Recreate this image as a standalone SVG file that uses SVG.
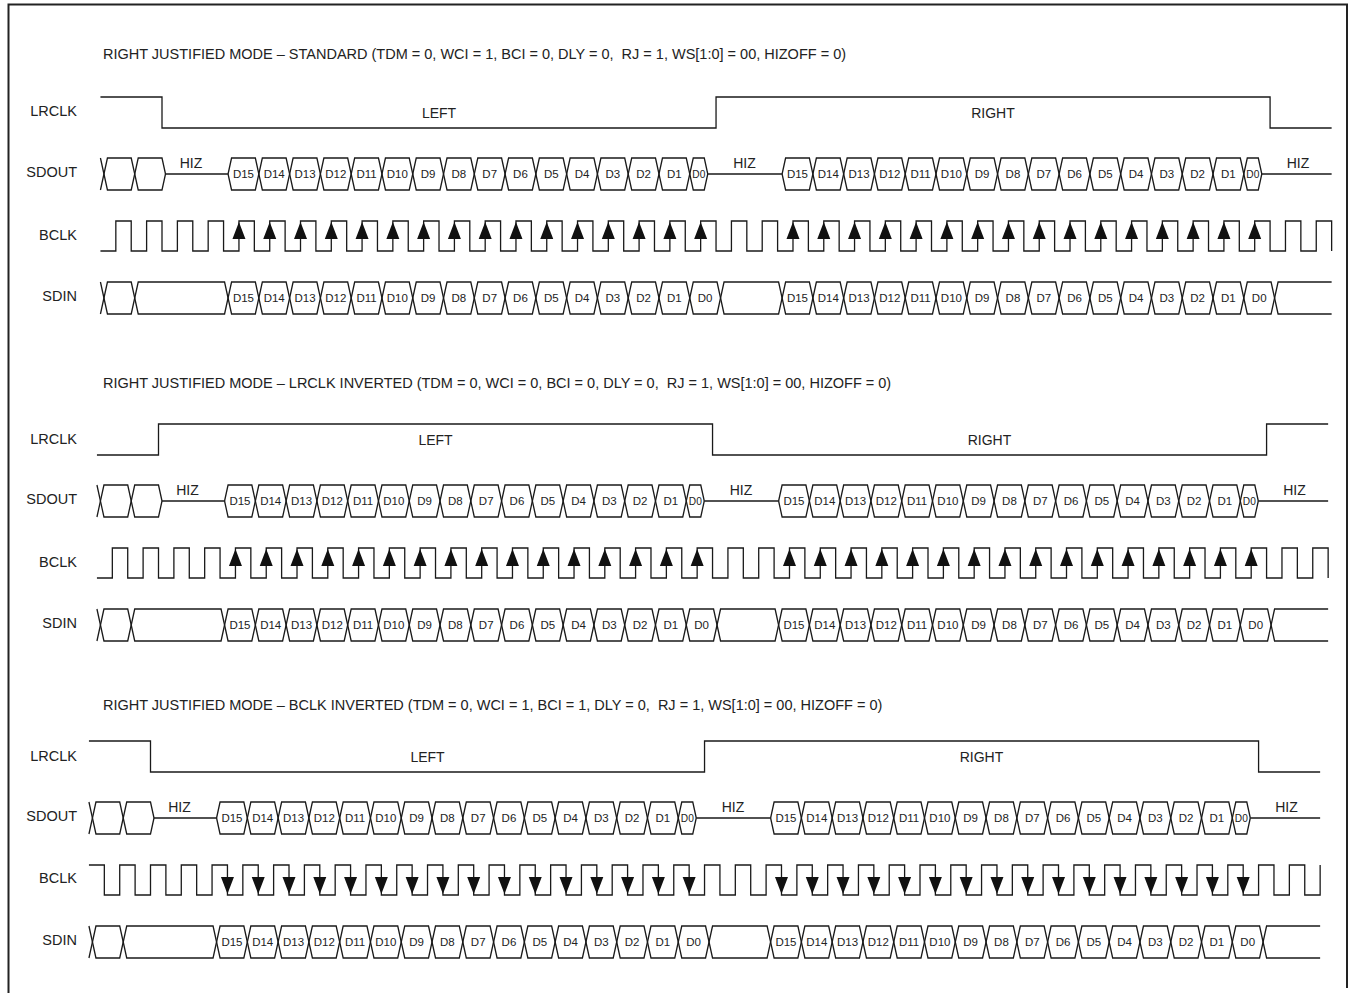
<svg xmlns="http://www.w3.org/2000/svg" xmlns:xlink="http://www.w3.org/1999/xlink" width="1354" height="993" viewBox="0 0 1354 993">
<style>
.t{font-family:"Liberation Sans",Arial,sans-serif;fill:#222}
.ttl{font-size:14.5px}
.lbl{font-size:14.5px;text-anchor:end}
.mid{font-size:14px;text-anchor:middle}
.d{font-size:11.5px;text-anchor:middle}
.w{fill:none;stroke:#1a1a1a;stroke-width:1.3;stroke-linejoin:miter}
.ar{fill:#111;stroke:none}
</style>
<defs>
<path id="lr" class="w" d="M-61.56,0H0V31H554.04V0H1108.08V31H1169.64"/>
<path id="lri" class="w" d="M-61.56,31H0V0H554.04V31H1108.08V0H1169.64"/>
<path id="bclk" class="w" d="M-61.56,154
h15.39V124h15.39V154h15.39V124h15.39V154h15.39V124h15.39V154h15.39V124h15.39V154h15.39V124h15.39V154
h15.39V124h15.39V154h15.39V124h15.39V154h15.39V124h15.39V154h15.39V124h15.39V154h15.39V124h15.39V154
h15.39V124h15.39V154h15.39V124h15.39V154h15.39V124h15.39V154h15.39V124h15.39V154h15.39V124h15.39V154
h15.39V124h15.39V154h15.39V124h15.39V154h15.39V124h15.39V154h15.39V124h15.39V154h15.39V124h15.39V154
h15.39V124h15.39V154h15.39V124h15.39V154h15.39V124h15.39V154h15.39V124h15.39V154h15.39V124h15.39V154
h15.39V124h15.39V154h15.39V124h15.39V154h15.39V124h15.39V154h15.39V124h15.39V154h15.39V124h15.39V154
h15.39V124h15.39V154h15.39V124h15.39V154h15.39V124h15.39V154h15.39V124h15.39V154h15.39V124h15.39V154
h15.39V124h15.39V154h15.39V124h15.39V154h15.39V124h15.39V154h15.39V124h15.39V154h15.39V124h15.39V154"/>
<path id="bclki" class="w" d="M-61.56,124
h15.39V154h15.39V124h15.39V154h15.39V124h15.39V154h15.39V124h15.39V154h15.39V124h15.39V154h15.39V124
h15.39V154h15.39V124h15.39V154h15.39V124h15.39V154h15.39V124h15.39V154h15.39V124h15.39V154h15.39V124
h15.39V154h15.39V124h15.39V154h15.39V124h15.39V154h15.39V124h15.39V154h15.39V124h15.39V154h15.39V124
h15.39V154h15.39V124h15.39V154h15.39V124h15.39V154h15.39V124h15.39V154h15.39V124h15.39V154h15.39V124
h15.39V154h15.39V124h15.39V154h15.39V124h15.39V154h15.39V124h15.39V154h15.39V124h15.39V154h15.39V124
h15.39V154h15.39V124h15.39V154h15.39V124h15.39V154h15.39V124h15.39V154h15.39V124h15.39V154h15.39V124
h15.39V154h15.39V124h15.39V154h15.39V124h15.39V154h15.39V124h15.39V154h15.39V124h15.39V154h15.39V124
h15.39V154h15.39V124h15.39V154h15.39V124h15.39V154h15.39V124h15.39V154h15.39V124h15.39V154h15.39V124"/>
<path id="upArr" class="ar" d="M76.95,125l-6.5,17h13zM107.73,125l-6.5,17h13zM138.51,125l-6.5,17h13zM169.29,125l-6.5,17h13zM200.07,125l-6.5,17h13zM230.85,125l-6.5,17h13zM261.63,125l-6.5,17h13zM292.41,125l-6.5,17h13zM323.19,125l-6.5,17h13zM353.97,125l-6.5,17h13zM384.75,125l-6.5,17h13zM415.53,125l-6.5,17h13zM446.31,125l-6.5,17h13zM477.09,125l-6.5,17h13zM507.87,125l-6.5,17h13zM538.65,125l-6.5,17h13zM630.99,125l-6.5,17h13zM661.77,125l-6.5,17h13zM692.55,125l-6.5,17h13zM723.33,125l-6.5,17h13zM754.11,125l-6.5,17h13zM784.89,125l-6.5,17h13zM815.67,125l-6.5,17h13zM846.45,125l-6.5,17h13zM877.23,125l-6.5,17h13zM908.01,125l-6.5,17h13zM938.79,125l-6.5,17h13zM969.57,125l-6.5,17h13zM1000.35,125l-6.5,17h13zM1031.13,125l-6.5,17h13zM1061.91,125l-6.5,17h13zM1092.69,125l-6.5,17h13z"/>
<path id="dnArr" class="ar" d="M76.95,153l-6.5,-17h13zM107.73,153l-6.5,-17h13zM138.51,153l-6.5,-17h13zM169.29,153l-6.5,-17h13zM200.07,153l-6.5,-17h13zM230.85,153l-6.5,-17h13zM261.63,153l-6.5,-17h13zM292.41,153l-6.5,-17h13zM323.19,153l-6.5,-17h13zM353.97,153l-6.5,-17h13zM384.75,153l-6.5,-17h13zM415.53,153l-6.5,-17h13zM446.31,153l-6.5,-17h13zM477.09,153l-6.5,-17h13zM507.87,153l-6.5,-17h13zM538.65,153l-6.5,-17h13zM630.99,153l-6.5,-17h13zM661.77,153l-6.5,-17h13zM692.55,153l-6.5,-17h13zM723.33,153l-6.5,-17h13zM754.11,153l-6.5,-17h13zM784.89,153l-6.5,-17h13zM815.67,153l-6.5,-17h13zM846.45,153l-6.5,-17h13zM877.23,153l-6.5,-17h13zM908.01,153l-6.5,-17h13zM938.79,153l-6.5,-17h13zM969.57,153l-6.5,-17h13zM1000.35,153l-6.5,-17h13zM1031.13,153l-6.5,-17h13zM1061.91,153l-6.5,-17h13zM1092.69,153l-6.5,-17h13z"/>
<g id="sdout" class="w">
<path d="M-61.56,61l7,32h23.78l7,-32h23.78l3.5,16"/>
<path d="M-61.56,93l7,-32h23.78l7,32h23.78l3.5,-16"/>
<path d="M3.5,77H66.06M545.76,77H620.1M1099.8,77H1169.64"/>
<path d="M66.06,77l3.5,-16h23.78l7,32h23.78l7,-32h23.78l7,32h23.78l7,-32h23.78l7,32h23.78l7,-32h23.78l7,32h23.78l7,-32h23.78l7,32h23.78l7,-32h23.78l7,32h23.78l7,-32h23.78l7,32h23.78l7,-32h23.78l7,32h11l3.5,-16"/>
<path d="M66.06,77l3.5,16h23.78l7,-32h23.78l7,32h23.78l7,-32h23.78l7,32h23.78l7,-32h23.78l7,32h23.78l7,-32h23.78l7,32h23.78l7,-32h23.78l7,32h23.78l7,-32h23.78l7,32h23.78l7,-32h23.78l7,32h23.78l7,-32h11l3.5,16"/>
<path d="M620.1,77l3.5,-16h23.78l7,32h23.78l7,-32h23.78l7,32h23.78l7,-32h23.78l7,32h23.78l7,-32h23.78l7,32h23.78l7,-32h23.78l7,32h23.78l7,-32h23.78l7,32h23.78l7,-32h23.78l7,32h23.78l7,-32h23.78l7,32h11l3.5,-16"/>
<path d="M620.1,77l3.5,16h23.78l7,-32h23.78l7,32h23.78l7,-32h23.78l7,32h23.78l7,-32h23.78l7,32h23.78l7,-32h23.78l7,32h23.78l7,-32h23.78l7,32h23.78l7,-32h23.78l7,32h23.78l7,-32h23.78l7,32h23.78l7,-32h11l3.5,16"/>
</g>
<g id="sdin" class="w">
<path d="M-61.56,185l7,32h23.78l7,-32h86.34l7,32h23.78l7,-32h23.78l7,32h23.78l7,-32h23.78l7,32h23.78l7,-32h23.78l7,32h23.78l7,-32h23.78l7,32h23.78l7,-32h23.78l7,32h23.78l7,-32h23.78l7,32h23.78l7,-32h23.78l7,32h23.78l7,-32h23.78l7,32h54.56l7,-32h23.78l7,32h23.78l7,-32h23.78l7,32h23.78l7,-32h23.78l7,32h23.78l7,-32h23.78l7,32h23.78l7,-32h23.78l7,32h23.78l7,-32h23.78l7,32h23.78l7,-32h23.78l7,32h23.78l7,-32h23.78l7,32h23.78l7,-32h53.56"/>
<path d="M-61.56,217l7,-32h23.78l7,32h86.34l7,-32h23.78l7,32h23.78l7,-32h23.78l7,32h23.78l7,-32h23.78l7,32h23.78l7,-32h23.78l7,32h23.78l7,-32h23.78l7,32h23.78l7,-32h23.78l7,32h23.78l7,-32h23.78l7,32h23.78l7,-32h23.78l7,32h23.78l7,-32h54.56l7,32h23.78l7,-32h23.78l7,32h23.78l7,-32h23.78l7,32h23.78l7,-32h23.78l7,32h23.78l7,-32h23.78l7,32h23.78l7,-32h23.78l7,32h23.78l7,-32h23.78l7,32h23.78l7,-32h23.78l7,32h23.78l7,-32h23.78l7,32h53.56"/>
</g>
</defs>
<rect width="1354" height="993" fill="#fff"/>
<path id="frame" d="M8.5,993V4.5H1347V988" fill="none" stroke="#222" stroke-width="2"/>

<g id="section1">
<text class="t ttl" x="103" y="59" xml:space="preserve">RIGHT JUSTIFIED MODE – STANDARD (TDM = 0, WCI = 1, BCI = 0, DLY = 0,  RJ = 1, WS[1:0] = 00, HIZOFF = 0)</text>
<g class="t lbl"><text x="77" y="116">LRCLK</text><text x="77" y="177">SDOUT</text><text x="77" y="240">BCLK</text><text x="77" y="301">SDIN</text></g>
<g transform="translate(162,97)">
<use href="#lr"/><use href="#sdout"/><use href="#bclk"/><use href="#upArr"/><use href="#sdin"/>
<g class="t mid"><text x="277" y="21">LEFT</text><text x="831" y="21">RIGHT</text><text x="29" y="71">HIZ</text><text x="582.5" y="71">HIZ</text><text x="1136" y="71">HIZ</text></g>
<g class="t d">
<text x="81.45" y="81">D15</text><text x="112.23" y="81">D14</text><text x="143.01" y="81">D13</text><text x="173.79" y="81">D12</text><text x="204.57" y="81">D11</text><text x="235.35" y="81">D10</text><text x="266.13" y="81">D9</text><text x="296.91" y="81">D8</text><text x="327.69" y="81">D7</text><text x="358.47" y="81">D6</text><text x="389.25" y="81">D5</text><text x="420.03" y="81">D4</text><text x="450.81" y="81">D3</text><text x="481.59" y="81">D2</text><text x="512.37" y="81">D1</text><text x="536.8" y="81" textLength="13" lengthAdjust="spacingAndGlyphs">D0</text>
<text x="635.49" y="81">D15</text><text x="666.27" y="81">D14</text><text x="697.05" y="81">D13</text><text x="727.83" y="81">D12</text><text x="758.61" y="81">D11</text><text x="789.39" y="81">D10</text><text x="820.17" y="81">D9</text><text x="850.95" y="81">D8</text><text x="881.73" y="81">D7</text><text x="912.51" y="81">D6</text><text x="943.29" y="81">D5</text><text x="974.07" y="81">D4</text><text x="1004.85" y="81">D3</text><text x="1035.63" y="81">D2</text><text x="1066.41" y="81">D1</text><text x="1090.8" y="81" textLength="13" lengthAdjust="spacingAndGlyphs">D0</text>
<text x="81.45" y="205">D15</text><text x="112.23" y="205">D14</text><text x="143.01" y="205">D13</text><text x="173.79" y="205">D12</text><text x="204.57" y="205">D11</text><text x="235.35" y="205">D10</text><text x="266.13" y="205">D9</text><text x="296.91" y="205">D8</text><text x="327.69" y="205">D7</text><text x="358.47" y="205">D6</text><text x="389.25" y="205">D5</text><text x="420.03" y="205">D4</text><text x="450.81" y="205">D3</text><text x="481.59" y="205">D2</text><text x="512.37" y="205">D1</text><text x="543.15" y="205">D0</text>
<text x="635.49" y="205">D15</text><text x="666.27" y="205">D14</text><text x="697.05" y="205">D13</text><text x="727.83" y="205">D12</text><text x="758.61" y="205">D11</text><text x="789.39" y="205">D10</text><text x="820.17" y="205">D9</text><text x="850.95" y="205">D8</text><text x="881.73" y="205">D7</text><text x="912.51" y="205">D6</text><text x="943.29" y="205">D5</text><text x="974.07" y="205">D4</text><text x="1004.85" y="205">D3</text><text x="1035.63" y="205">D2</text><text x="1066.41" y="205">D1</text><text x="1097.19" y="205">D0</text>
</g>
</g>
</g>

<g id="section2">
<text class="t ttl" x="103" y="388" xml:space="preserve">RIGHT JUSTIFIED MODE – LRCLK INVERTED (TDM = 0, WCI = 0, BCI = 0, DLY = 0,  RJ = 1, WS[1:0] = 00, HIZOFF = 0)</text>
<g class="t lbl"><text x="77" y="444">LRCLK</text><text x="77" y="504">SDOUT</text><text x="77" y="567">BCLK</text><text x="77" y="628">SDIN</text></g>
<g transform="translate(158.5,424)">
<use href="#lri"/><use href="#sdout"/><use href="#bclk"/><use href="#upArr"/><use href="#sdin"/>
<g class="t mid"><text x="277" y="21">LEFT</text><text x="831" y="21">RIGHT</text><text x="29" y="71">HIZ</text><text x="582.5" y="71">HIZ</text><text x="1136" y="71">HIZ</text></g>
<g class="t d">
<text x="81.45" y="81">D15</text><text x="112.23" y="81">D14</text><text x="143.01" y="81">D13</text><text x="173.79" y="81">D12</text><text x="204.57" y="81">D11</text><text x="235.35" y="81">D10</text><text x="266.13" y="81">D9</text><text x="296.91" y="81">D8</text><text x="327.69" y="81">D7</text><text x="358.47" y="81">D6</text><text x="389.25" y="81">D5</text><text x="420.03" y="81">D4</text><text x="450.81" y="81">D3</text><text x="481.59" y="81">D2</text><text x="512.37" y="81">D1</text><text x="536.8" y="81" textLength="13" lengthAdjust="spacingAndGlyphs">D0</text>
<text x="635.49" y="81">D15</text><text x="666.27" y="81">D14</text><text x="697.05" y="81">D13</text><text x="727.83" y="81">D12</text><text x="758.61" y="81">D11</text><text x="789.39" y="81">D10</text><text x="820.17" y="81">D9</text><text x="850.95" y="81">D8</text><text x="881.73" y="81">D7</text><text x="912.51" y="81">D6</text><text x="943.29" y="81">D5</text><text x="974.07" y="81">D4</text><text x="1004.85" y="81">D3</text><text x="1035.63" y="81">D2</text><text x="1066.41" y="81">D1</text><text x="1090.8" y="81" textLength="13" lengthAdjust="spacingAndGlyphs">D0</text>
<text x="81.45" y="205">D15</text><text x="112.23" y="205">D14</text><text x="143.01" y="205">D13</text><text x="173.79" y="205">D12</text><text x="204.57" y="205">D11</text><text x="235.35" y="205">D10</text><text x="266.13" y="205">D9</text><text x="296.91" y="205">D8</text><text x="327.69" y="205">D7</text><text x="358.47" y="205">D6</text><text x="389.25" y="205">D5</text><text x="420.03" y="205">D4</text><text x="450.81" y="205">D3</text><text x="481.59" y="205">D2</text><text x="512.37" y="205">D1</text><text x="543.15" y="205">D0</text>
<text x="635.49" y="205">D15</text><text x="666.27" y="205">D14</text><text x="697.05" y="205">D13</text><text x="727.83" y="205">D12</text><text x="758.61" y="205">D11</text><text x="789.39" y="205">D10</text><text x="820.17" y="205">D9</text><text x="850.95" y="205">D8</text><text x="881.73" y="205">D7</text><text x="912.51" y="205">D6</text><text x="943.29" y="205">D5</text><text x="974.07" y="205">D4</text><text x="1004.85" y="205">D3</text><text x="1035.63" y="205">D2</text><text x="1066.41" y="205">D1</text><text x="1097.19" y="205">D0</text>
</g>
</g>
</g>

<g id="section3">
<text class="t ttl" x="103" y="710" xml:space="preserve">RIGHT JUSTIFIED MODE – BCLK INVERTED (TDM = 0, WCI = 1, BCI = 1, DLY = 0,  RJ = 1, WS[1:0] = 00, HIZOFF = 0)</text>
<g class="t lbl"><text x="77" y="761">LRCLK</text><text x="77" y="821">SDOUT</text><text x="77" y="883">BCLK</text><text x="77" y="945">SDIN</text></g>
<g transform="translate(150.5,741)">
<use href="#lr"/><use href="#sdout"/><use href="#bclki"/><use href="#dnArr"/><use href="#sdin"/>
<g class="t mid"><text x="277" y="21">LEFT</text><text x="831" y="21">RIGHT</text><text x="29" y="71">HIZ</text><text x="582.5" y="71">HIZ</text><text x="1136" y="71">HIZ</text></g>
<g class="t d">
<text x="81.45" y="81">D15</text><text x="112.23" y="81">D14</text><text x="143.01" y="81">D13</text><text x="173.79" y="81">D12</text><text x="204.57" y="81">D11</text><text x="235.35" y="81">D10</text><text x="266.13" y="81">D9</text><text x="296.91" y="81">D8</text><text x="327.69" y="81">D7</text><text x="358.47" y="81">D6</text><text x="389.25" y="81">D5</text><text x="420.03" y="81">D4</text><text x="450.81" y="81">D3</text><text x="481.59" y="81">D2</text><text x="512.37" y="81">D1</text><text x="536.8" y="81" textLength="13" lengthAdjust="spacingAndGlyphs">D0</text>
<text x="635.49" y="81">D15</text><text x="666.27" y="81">D14</text><text x="697.05" y="81">D13</text><text x="727.83" y="81">D12</text><text x="758.61" y="81">D11</text><text x="789.39" y="81">D10</text><text x="820.17" y="81">D9</text><text x="850.95" y="81">D8</text><text x="881.73" y="81">D7</text><text x="912.51" y="81">D6</text><text x="943.29" y="81">D5</text><text x="974.07" y="81">D4</text><text x="1004.85" y="81">D3</text><text x="1035.63" y="81">D2</text><text x="1066.41" y="81">D1</text><text x="1090.8" y="81" textLength="13" lengthAdjust="spacingAndGlyphs">D0</text>
<text x="81.45" y="205">D15</text><text x="112.23" y="205">D14</text><text x="143.01" y="205">D13</text><text x="173.79" y="205">D12</text><text x="204.57" y="205">D11</text><text x="235.35" y="205">D10</text><text x="266.13" y="205">D9</text><text x="296.91" y="205">D8</text><text x="327.69" y="205">D7</text><text x="358.47" y="205">D6</text><text x="389.25" y="205">D5</text><text x="420.03" y="205">D4</text><text x="450.81" y="205">D3</text><text x="481.59" y="205">D2</text><text x="512.37" y="205">D1</text><text x="543.15" y="205">D0</text>
<text x="635.49" y="205">D15</text><text x="666.27" y="205">D14</text><text x="697.05" y="205">D13</text><text x="727.83" y="205">D12</text><text x="758.61" y="205">D11</text><text x="789.39" y="205">D10</text><text x="820.17" y="205">D9</text><text x="850.95" y="205">D8</text><text x="881.73" y="205">D7</text><text x="912.51" y="205">D6</text><text x="943.29" y="205">D5</text><text x="974.07" y="205">D4</text><text x="1004.85" y="205">D3</text><text x="1035.63" y="205">D2</text><text x="1066.41" y="205">D1</text><text x="1097.19" y="205">D0</text>
</g>
</g>
</g>
</svg>
